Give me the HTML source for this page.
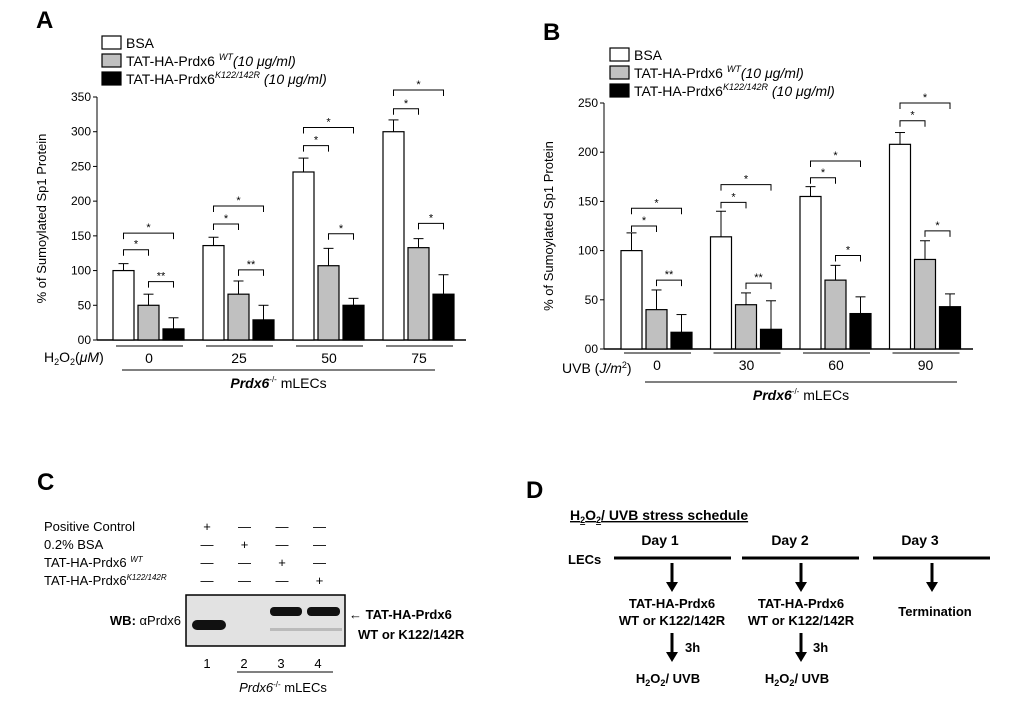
<!DOCTYPE html>
<html><head><meta charset="utf-8"><style>
body{margin:0;background:#fff;}
svg{display:block;font-family:"Liberation Sans",Arial,sans-serif;}
</style></head><body>
<svg id="fig" width="1020" height="715" viewBox="0 0 1020 715">
<g id="panelA"></g>
<g id="panelB"></g>
<g>
<text x="37" y="490" font-size="24" font-weight="bold">C</text>
<g font-size="13">
<text x="44" y="531">Positive Control</text>
<text x="44" y="549">0.2% BSA</text>
<text x="44" y="567">TAT-HA-Prdx6 <tspan font-size="8" font-style="italic" dy="-5">WT</tspan></text>
<text x="44" y="585">TAT-HA-Prdx6<tspan font-size="8" font-style="italic" dy="-5">K122/142R</tspan></text>
</g>
<g id="signs" font-size="13" text-anchor="middle"></g>
<rect x="186" y="595" width="159" height="51" fill="#dcdcdc" stroke="#000" stroke-width="1.5"/>
<rect x="187" y="596" width="157" height="49" fill="#e2e2e2"/>
<rect x="270" y="628" width="72" height="3" fill="#bbb"/>
<rect x="192" y="620" width="34" height="10" rx="5" fill="#111"/>
<rect x="270" y="607" width="32" height="9" rx="4" fill="#111"/>
<rect x="307" y="607" width="33" height="9" rx="4" fill="#111"/>
<text x="181" y="625" font-size="13" text-anchor="end"><tspan font-weight="bold">WB:</tspan> αPrdx6</text>
<text x="349" y="619" font-size="13" font-weight="bold">← TAT-HA-Prdx6</text>
<text x="358" y="639" font-size="13" font-weight="bold">WT or K122/142R</text>
<g font-size="13" text-anchor="middle">
<text x="207" y="668">1</text><text x="244" y="668">2</text><text x="281" y="668">3</text><text x="318" y="668">4</text></g>
<line x1="237" y1="672" x2="333" y2="672" stroke="#000"/>
<text x="283" y="692" font-size="13" text-anchor="middle"><tspan font-style="italic">Prdx6</tspan><tspan font-size="8" dy="-5">-/-</tspan><tspan dy="5"> mLECs</tspan></text>
</g>
<g font-weight="bold" font-size="13">
<text x="526" y="498" font-size="24">D</text>
<text x="570" y="520" font-size="14" text-decoration="underline">H<tspan font-size="9" dy="3">2</tspan><tspan dy="-3">O</tspan><tspan font-size="9" dy="3">2</tspan><tspan dy="-3">/ UVB stress schedule</tspan></text>
<g text-anchor="middle" font-size="14"><text x="660" y="545">Day 1</text><text x="790" y="545">Day 2</text><text x="920" y="545">Day 3</text></g>
<text x="568" y="564">LECs</text>
<g stroke="#000" stroke-width="3"><line x1="614" y1="558" x2="731" y2="558"/><line x1="742" y1="558" x2="859" y2="558"/><line x1="873" y1="558" x2="990" y2="558"/></g>
<g id="arrowsD"></g>
<g text-anchor="middle">
<text x="672" y="608">TAT-HA-Prdx6</text><text x="672" y="625">WT or K122/142R</text>
<text x="801" y="608">TAT-HA-Prdx6</text><text x="801" y="625">WT or K122/142R</text>
<text x="935" y="616">Termination</text>
<text x="668" y="683">H<tspan font-size="9" dy="3">2</tspan><tspan dy="-3">O</tspan><tspan font-size="9" dy="3">2</tspan><tspan dy="-3">/ UVB</tspan></text>
<text x="797" y="683">H<tspan font-size="9" dy="3">2</tspan><tspan dy="-3">O</tspan><tspan font-size="9" dy="3">2</tspan><tspan dy="-3">/ UVB</tspan></text>
</g>
<text x="685" y="652">3h</text><text x="813" y="652">3h</text>
</g>
</svg>
<script>
const NS="http://www.w3.org/2000/svg";
function el(p,t,a,txt){const e=document.createElementNS(NS,t);for(const k in a)e.setAttribute(k,a[k]);if(txt!==undefined)e.textContent=txt;p.appendChild(e);return e;}

// Panel A data
const aGroups=["0","25","50","75"];
const aBSA=[100,136,242,300];
const aBSAerr=[10,12,20,17];
const aWT=[50,66,107,133];
const aWTerr=[16,19,25,13];
const aK=[16,29,50,66];
const aKerr=[16,21,10,28];
const aTicks=[0,50,100,150,200,250,300,350];
const aTickLabels=["00","50","100","150","200","250","300","350"];
const aBr1=[130,167,280,333];
const aBr2=[154,193,306,360];
const aBr3=[84,101,153,168];
const aBr3Label=["**","**","*","*"];

// Panel B data
const bGroups=["0","30","60","90"];
const bBSA=[100,114,155,208];
const bBSAerr=[18,26,10,12];
const bWT=[40,45,70,91];
const bWTerr=[20,12,15,19];
const bK=[17,20,36,43];
const bKerr=[18,29,17,13];
const bTicks=[0,50,100,150,200,250];
const bTickLabels=["00","50","100","150","200","250"];
const bBr1=[125,149,174,232];
const bBr2=[143,167,191,250];
const bBr3=[70,67,95,120];
const bBr3Label=["**","**","*","*"];

const fills=["#ffffff","#c0c0c0","#000000"];

function drawPanel(g,cfg){
  const y=v=>cfg.y0-(v/cfg.max)*(cfg.y0-cfg.yTop);
  const gx=i=>cfg.gx0+i*cfg.gStep;
  el(g,"text",{x:cfg.letterX,y:cfg.letterY,"font-size":24,"font-weight":"bold"},cfg.letter);
  const legLabels=[["BSA",""],["TAT-HA-Prdx6 ","WT","(10 μg/ml)"],["TAT-HA-Prdx6","K122/142R"," (10 μg/ml)"]];
  legLabels.forEach((L,i)=>{
    const ly=cfg.legY+i*cfg.legStep;
    const r=el(g,"rect",{x:cfg.legX,y:ly,width:19,height:13,fill:fills[i],stroke:"#000","stroke-width":1.2});
    
    
    const t=el(g,"text",{x:cfg.legX+24,y:ly+12,"font-size":14});
    
    
    el(t,"tspan",{},L[0]);
    if(L[1]){el(t,"tspan",{"font-size":9,"font-style":"italic",dy:-6},L[1]);el(t,"tspan",{"font-style":"italic",dy:6},L[2]);}
  });
  el(g,"line",{x1:cfg.ax,y1:cfg.yTop,x2:cfg.ax,y2:cfg.y0,stroke:"#000"});
  el(g,"line",{x1:cfg.ax,y1:cfg.y0,x2:cfg.axEnd,y2:cfg.y0,stroke:"#000","stroke-width":1.5});
  cfg.ticks.forEach((v,i)=>{
    el(g,"line",{x1:cfg.ax-4,y1:y(v),x2:cfg.ax,y2:y(v),stroke:"#000"});
    const t=el(g,"text",{x:cfg.ax-6,y:y(v)+4,"font-size":12,"text-anchor":"end"},cfg.tickLabels[i]);
    
    
  });
  const yt=el(g,"text",{transform:`translate(${cfg.titleX},${(cfg.y0+cfg.yTop)/2}) rotate(-90)`,"font-size":13,"text-anchor":"middle"},"% of Sumoylated Sp1 Protein");
  
  
  const series=[[cfg.bsa,cfg.bsaE],[cfg.wt,cfg.wtE],[cfg.k,cfg.kE]];
  const bw=21,gap=4;
  const cx=(i,s)=>gx(i)+s*(bw+gap)+bw/2;
  cfg.groups.forEach((lab,i)=>{
    series.forEach((S,s)=>{
      const x=gx(i)+s*(bw+gap);
      const v=S[0][i],e=S[1][i];
      el(g,"line",{x1:x+bw/2,y1:y(v),x2:x+bw/2,y2:y(v+e),stroke:"#000"});
      el(g,"line",{x1:x+bw/2-5,y1:y(v+e),x2:x+bw/2+5,y2:y(v+e),stroke:"#000"});
      const b=el(g,"rect",{x:x,y:y(v),width:bw,height:cfg.y0-y(v),fill:fills[s],stroke:"#000","stroke-width":1.2});
      
      
    });
    const br=[[0,1,cfg.br1[i],"*"],[0,2,cfg.br2[i],"*"],[1,2,cfg.br3[i],cfg.br3L[i]]];
    br.forEach(B=>{
      const x1=cx(i,B[0]),x2=cx(i,B[1]),yy=y(B[2]);
      el(g,"path",{d:`M${x1} ${yy+6}V${yy}H${x2}V${yy+6}`,fill:"none",stroke:"#000"});
      el(g,"text",{x:(x1+x2)/2,y:yy-2,"font-size":11,"text-anchor":"middle"},B[3]);
    });
    el(g,"line",{x1:gx(i)+3,y1:cfg.y0+cfg.glOff,x2:gx(i)+70,y2:cfg.y0+cfg.glOff,stroke:"#000"});
    const gt=el(g,"text",{x:gx(i)+36,y:cfg.y0+cfg.glOff+17,"font-size":14,"text-anchor":"middle"},lab);
    
    
  });
  el(g,"line",{x1:cfg.blX1,y1:cfg.blY,x2:cfg.blX2,y2:cfg.blY,stroke:"#000"});
  const bt=el(g,"text",{x:(cfg.blX1+cfg.blX2)/2,y:cfg.blY+18,"font-size":14,"text-anchor":"middle"});
  el(bt,"tspan",{"font-weight":"bold","font-style":"italic"},"Prdx6");
  el(bt,"tspan",{"font-size":8,dy:-6},"-/-");
  el(bt,"tspan",{dy:6}," mLECs");
  return g;
}
const gA=document.getElementById("panelA");
drawPanel(gA,{letter:"A",letterX:36,letterY:28,legX:102,legY:36,legStep:18,ax:97,axEnd:466,yTop:97,y0:340,max:350,gx0:113,gStep:90,
  ticks:aTicks,tickLabels:aTickLabels,titleX:46,groups:aGroups,bsa:aBSA,bsaE:aBSAerr,wt:aWT,wtE:aWTerr,k:aK,kE:aKerr,
  br1:aBr1,br2:aBr2,br3:aBr3,br3L:aBr3Label,glOff:6,blX1:122,blX2:435,blY:370});
const ta=el(gA,"text",{x:44,y:362,"font-size":14});
ta.innerHTML='H<tspan font-size="9" dy="3">2</tspan><tspan dy="-3">O</tspan><tspan font-size="9" dy="3">2</tspan><tspan dy="-3">(</tspan><tspan font-style="italic">μM</tspan>)';
const gB=document.getElementById("panelB");
drawPanel(gB,{letter:"B",letterX:543,letterY:40,legX:610,legY:48,legStep:18,ax:604,axEnd:973,yTop:103,y0:349,max:250,gx0:621,gStep:89.5,
  ticks:bTicks,tickLabels:bTickLabels,titleX:553,groups:bGroups,bsa:bBSA,bsaE:bBSAerr,wt:bWT,wtE:bWTerr,k:bK,kE:bKerr,
  br1:bBr1,br2:bBr2,br3:bBr3,br3L:bBr3Label,glOff:4,blX1:645,blX2:957,blY:382});
const tb=el(gB,"text",{x:562,y:373,"font-size":14});
tb.innerHTML='UVB (<tspan font-style="italic">J/m</tspan><tspan font-size="9" dy="-5">2</tspan><tspan dy="5">)</tspan>';

const signs=[["+","—","—","—"],["—","+","—","—"],["—","—","+","—"],["—","—","—","+"]];
const sg=document.getElementById("signs");
signs.forEach((r,ri)=>r.forEach((s,ci)=>el(sg,"text",{x:207+ci*37.5,y:531+ri*18},s)));
const ad=document.getElementById("arrowsD");
[[672,563,592],[801,563,592],[932,563,592],[672,633,662],[801,633,662]].forEach(a=>{
  el(ad,"line",{x1:a[0],y1:a[1],x2:a[0],y2:a[2]-8,stroke:"#000","stroke-width":3});
  el(ad,"polygon",{points:`${a[0]-6},${a[2]-10} ${a[0]+6},${a[2]-10} ${a[0]},${a[2]}`,fill:"#000"});
});
</script>
</body></html>
